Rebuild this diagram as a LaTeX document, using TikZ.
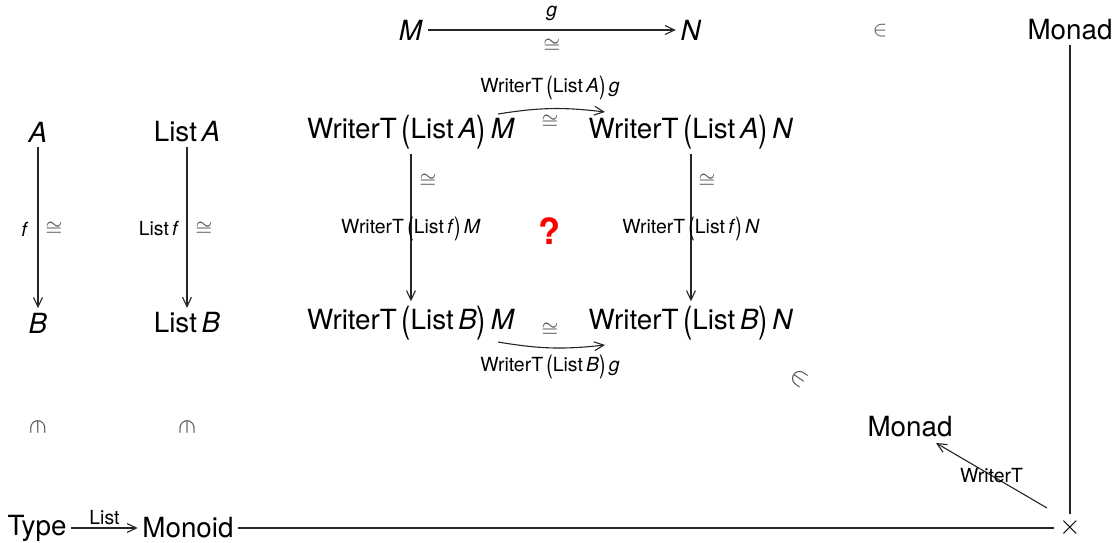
\documentclass[tikz,border=0pt]{standalone}
\usepackage{fontspec}
\setmainfont{TeX Gyre Heros}
\usepackage{graphicx}
\usetikzlibrary{arrows.meta,calc}
\newcommand{\bp}[1]{\raisebox{-0.12em}{\scalebox{1}[1.3]{#1}}}
\newcommand{\WT}[2]{WriterT\,\bp{(}List\,\textit{#1}\bp{)}\,\textit{#2}}
\begin{document}
\begin{tikzpicture}[x=0.36pt,y=-0.36pt,
  big/.style={font=\fontsize{10}{12}\selectfont, inner sep=1.5pt},
  lab/.style={font=\fontsize{7}{8}\selectfont, inner sep=1pt},
  iso/.style={font=\fontsize{7}{8}\selectfont, text=black!65, inner sep=1pt},
  mem/.style={font=\fontsize{9}{10}\selectfont, text=black!70, inner sep=1pt},
  arr/.style={-{Straight Barb[length=3.4pt,width=3.2pt]}, line width=0.4pt, draw=black!85},
  ln/.style={line width=0.4pt, draw=black!85}]
\useasboundingbox (0,0) rectangle (1112,543);
% top row
\node[big] (M) at (411,30) {\textit{M}};
\node[big] (N) at (691,30) {\textit{N}};
\node[big] (Mo1) at (1070,30) {Monad};
\node[iso] (in1) at (880,31) {$\in$};
\draw[arr] (M) -- node[lab, above=2pt] {\textit{g}} node[iso, below=2pt] {$\cong$} (N);
% second row
\node[big] (A) at (38,132) {\textit{A}};
\node[big] (LA) at (187,132) {List\,\textit{A}};
\node[big] (WAM) at (411,132) {\WT{A}{M}};
\node[big] (WAN) at (691,132) {\WT{A}{N}};
% third row
\node[big] (B) at (38,323) {\textit{B}};
\node[big] (LB) at (187,323) {List\,\textit{B}};
\node[big] (WBM) at (411,323) {\WT{B}{M}};
\node[big] (WBN) at (691,323) {\WT{B}{N}};
% vertical arrows
\draw[arr] (A) -- (B);
\node[lab] (fl) at (25,229) {\textit{f}};
\node[iso] (fi) at (54,229) {$\cong$};
\draw[arr] (LA) -- (LB);
\node[lab] (lfl) at (159,229) {List\,\textit{f}};
\node[iso] (lfi) at (204,229) {$\cong$};
\draw[arr] (WAM) -- (WBM);
\node[lab] (wfm) at (411,229) {\WT{f}{M}};
\node[iso] (wfmi) at (428,181) {$\cong$};
\draw[arr] (WAN) -- (WBN);
\node[lab] (wfn) at (691,229) {\WT{f}{N}};
\node[iso] (wfni) at (707,181) {$\cong$};
\node[font=\fontsize{13}{14}\selectfont\bfseries, text=red] (q) at (550,231) {?};
% curved arrows
\coordinate (t1) at (498,114);
\coordinate (t2) at (605,112);
\draw[arr] (t1) to[bend left=8] (t2);
\node[lab] (tl) at (550,88) {\WT{A}{g}};
\node[iso] (ti) at (550,122) {$\cong$};
\coordinate (b1) at (498,342);
\coordinate (b2) at (605,345);
\draw[arr] (b1) to[bend right=8] (b2);
\node[lab] (bl) at (550,367) {\WT{B}{g}};
\node[iso] (bi) at (550,330) {$\cong$};
% membership symbols
\node[mem, rotate=-35] (in2) at (799,378) {$\in$};
\node[mem, rotate=-90] (in3) at (38,427) {$\in$};
\node[mem, rotate=-90] (in4) at (187,427) {$\in$};
% bottom
\node[big] (Mo2) at (910,427) {Monad};
\node[big] (Ty) at (37,528) {Type};
\node[big] (Mn) at (188,528) {Monoid};
\node[big] (X) at (1070,528) {$\times$};
\draw[arr] (Ty) -- node[lab, above=0pt] {List} (Mn);
\draw[ln] (Mn) -- (X);
\draw[ln] (Mo1) -- (X);
\draw[arr] ($(X)+(-23,-20)$) -- node[lab, pos=0.5] {WriterT} ($(Mo2)+(26,16)$);
\end{tikzpicture}
\end{document}
